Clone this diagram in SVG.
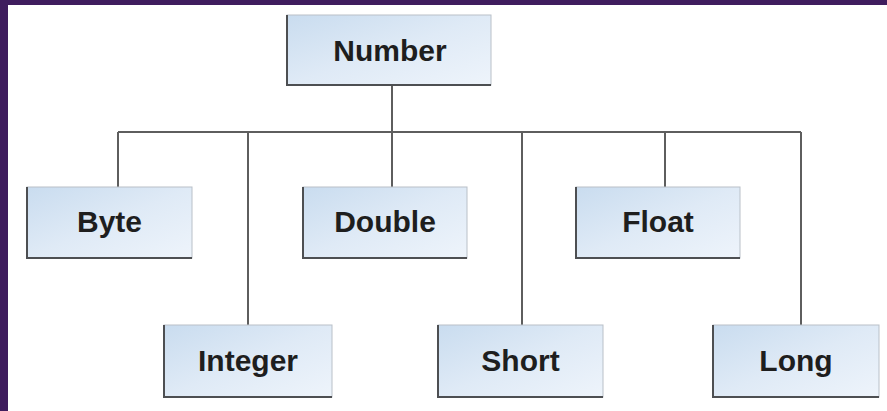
<svg xmlns="http://www.w3.org/2000/svg" width="887" height="411" viewBox="0 0 887 411">
  <defs>
    <linearGradient id="boxfill" x1="0" y1="0" x2="1" y2="1">
      <stop offset="0" stop-color="#c9dcef"/>
      <stop offset="0.5" stop-color="#dfeaf6"/>
      <stop offset="1" stop-color="#eef4fb"/>
    </linearGradient>
    <style>
      .box { fill: url(#boxfill); stroke: #b9c0c8; stroke-width: 1; }
      .shade { fill: none; stroke: #4d4f52; stroke-width: 2; }
      .label { font-family: "Liberation Sans", Arial, sans-serif; font-weight: bold; font-size: 30px; fill: #1e1e1e; text-anchor: middle; }
      .conn { fill: none; stroke: #5e5e5e; stroke-width: 2; }
    </style>
  </defs>
  <rect x="0" y="0" width="887" height="411" fill="#ffffff"/>
  <rect x="0" y="0" width="887" height="5" fill="#3f1d5e"/>
  <rect x="0" y="0" width="8" height="411" fill="#3f1d5e"/>

  <g id="connectors">
    <path class="conn" d="M392 85 V132 M118 132 H801 M118 132 V187 M248 132 V325 M392 132 V187 M522 132 V325 M665 132 V187 M801 132 V325"/>
  </g>

  <g id="node-number">
    <rect class="box" x="287" y="15" width="204" height="70"/>
    <path class="shade" d="M287 15 V85 H491"/>
    <text class="label" x="390" y="60.5">Number</text>
  </g>
  <g id="node-byte">
    <rect class="box" x="27" y="187" width="165" height="71"/>
    <path class="shade" d="M27 187 V258 H192"/>
    <text class="label" x="109.5" y="231.5">Byte</text>
  </g>
  <g id="node-double">
    <rect class="box" x="303" y="187" width="164" height="71"/>
    <path class="shade" d="M303 187 V258 H467"/>
    <text class="label" x="385" y="231.5">Double</text>
  </g>
  <g id="node-float">
    <rect class="box" x="576" y="187" width="164" height="71"/>
    <path class="shade" d="M576 187 V258 H740"/>
    <text class="label" x="658" y="231.5">Float</text>
  </g>
  <g id="node-integer">
    <rect class="box" x="164" y="325" width="168" height="72"/>
    <path class="shade" d="M164 325 V397 H332"/>
    <text class="label" x="248" y="370.5">Integer</text>
  </g>
  <g id="node-short">
    <rect class="box" x="438" y="325" width="165" height="72"/>
    <path class="shade" d="M438 325 V397 H603"/>
    <text class="label" x="520.5" y="370.5">Short</text>
  </g>
  <g id="node-long">
    <rect class="box" x="713" y="325" width="166" height="72"/>
    <path class="shade" d="M713 325 V397 H879"/>
    <text class="label" x="796" y="370.5">Long</text>
  </g>
</svg>
